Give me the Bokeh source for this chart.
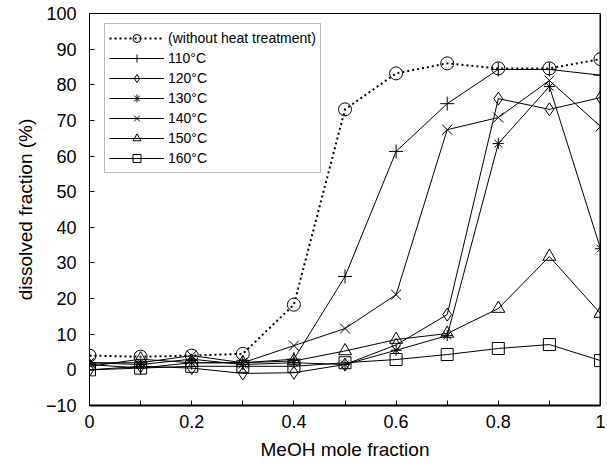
from bokeh.plotting import figure
from bokeh.models import FixedTicker, Legend, LegendItem, Span, Range1d
from bokeh.embed import file_html
from bokeh.resources import INLINE

x = [0.0, 0.1, 0.2, 0.3, 0.4, 0.5, 0.6, 0.7, 0.8, 0.9, 1.0]
no_heat = [4.0, 3.7, 4.0, 4.5, 18.3, 73.1, 83.2, 86.0, 84.6, 84.6, 87.2]
t110 = [1.5, 0.5, 2.0, 2.0, 3.0, 26.2, 61.3, 74.7, 84.3, 84.3, 82.7]
t120 = [0.0, 1.0, 0.5, -1.0, -0.8, 1.5, 7.0, 15.5, 76.1, 73.1, 76.4]
t130 = [2.0, 1.5, 3.0, 1.5, 2.0, 1.5, 5.5, 9.6, 63.5, 79.5, 34.0]
t140 = [2.0, 2.0, 4.0, 2.0, 6.8, 11.6, 21.1, 67.4, 70.8, 81.2, 68.3]
t150 = [1.0, 3.0, 2.0, 2.0, 2.5, 5.3, 8.5, 10.2, 17.2, 31.8, 15.8]
t160 = [0.0, 0.5, 1.0, 1.0, 1.0, 2.0, 2.9, 4.3, 6.0, 7.1, 2.6]

labels = ["(without heat treatment)", "110°C", "120°C", "130°C", "140°C", "150°C", "160°C"]
series = [no_heat, t110, t120, t130, t140, t150, t160]
markers = ["circle", "cross", "diamond", "asterisk", "x", "triangle", "square"]
sizes = [13, 14, 13, 11, 14, 13, 12]

x_ticks = [0, 0.2, 0.4, 0.6, 0.8, 1.0]
x_minor = [0.1, 0.3, 0.5, 0.7, 0.9]
y_ticks = [-10, 0, 10, 20, 30, 40, 50, 60, 70, 80, 90, 100]

FONT = "Liberation Sans"
FH = 392

p = figure(width=607, height=466, output_backend="svg", toolbar_location=None,
           x_range=Range1d(0, 1), y_range=Range1d(-10, 100),
           min_border_left=89, min_border_right=7, min_border_top=13, min_border_bottom=61)
p.grid.visible = False
p.outline_line_color = "black"
p.outline_line_width = 1
p.background_fill_color = "white"
p.border_fill_color = "white"

p.xaxis.ticker = FixedTicker(ticks=x_ticks, minor_ticks=x_minor)
p.yaxis.ticker = FixedTicker(ticks=y_ticks, minor_ticks=[])
p.xaxis.major_label_overrides = {0: "0", 1: "1", 0.2: "0.2", 0.4: "0.4", 0.6: "0.6", 0.8: "0.8"}

for ax in (p.xaxis, p.yaxis):
    ax.axis_line_color = "black"
    ax.major_tick_in = 5
    ax.major_tick_out = 0
    ax.minor_tick_in = 5
    ax.minor_tick_out = 0
    ax.major_tick_line_color = "black"
    ax.minor_tick_line_color = "black"
    ax.major_label_text_font = FONT
    ax.major_label_text_font_size = "18px"
    ax.major_label_text_color = "black"
    ax.axis_label_text_font = FONT
    ax.axis_label_text_font_size = "19px"
    ax.axis_label_text_font_style = "normal"
    ax.axis_label_text_color = "black"

p.xaxis.axis_line_width = 2
p.xaxis.major_label_standoff = 9
p.xaxis.axis_label = "MeOH mole fraction"
p.xaxis.axis_label_standoff = 8
p.yaxis.axis_line_width = 1
p.yaxis.major_label_standoff = 13
p.yaxis.axis_label = "dissolved fraction (%)"
p.yaxis.axis_label_standoff = 7

items = []
for i, (lab, ys, mk, sz) in enumerate(zip(labels, series, markers, sizes)):
    if i == 0:
        lr = p.line(x, ys, line_color="black", line_width=2, line_dash="2 3")
    else:
        lr = p.line(x, ys, line_color="black", line_width=1)
    sr = p.scatter(x, ys, marker=mk, size=sz, line_color="black", line_width=1,
                   fill_color="white", fill_alpha=0)
    items.append(LegendItem(label=lab, renderers=[lr, sr]))

p.add_layout(Span(location=1.0, dimension="height", line_color="black", line_width=2))

LH = 148
legend = Legend(items=items, glyph_width=55, glyph_height=20,
                spacing=0, padding=4, margin=0, label_standoff=4,
                label_text_font=FONT, label_text_font_size="14px",
                label_text_color="black", label_height=20,
                border_line_color="#777777", border_line_width=1,
                background_fill_color="white", background_fill_alpha=1)
p.add_layout(legend, "center")
legend.location = (15, FH - 12 - LH)

open("out.html", "w").write(file_html(p, INLINE))
